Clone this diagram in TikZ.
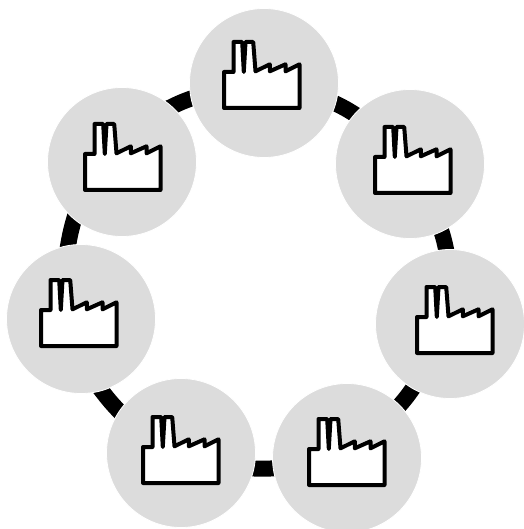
\documentclass[tikz,border=0pt]{standalone}
\usetikzlibrary{backgrounds}
\definecolor{sitegray}{RGB}{220,220,220}
\tikzset{
  site/.style={circle,fill=sitegray,draw=white,line width=0.8pt,minimum size=149pt,inner sep=0pt,outer sep=0pt},
  link/.style={line width=16pt,draw=black,shorten <=-4pt,shorten >=-4pt},
  factory/.pic={
    \draw[line width=4pt,line join=round,fill=white,draw=black]
      (-40.5,25)--(-40.5,-11)--(-31,-11)--(-31,-41)--(-22.3,-41)--(-20.7,-11)--(-19,-41)--(-11.3,-41)
      --(-9,-11.7)--(5.3,-18.7)--(5.3,-11.7)--(21,-18.7)--(21,-11.7)--(35,-18.7)--(35,25)--cycle;
  }
}
\begin{document}
\begin{tikzpicture}[x=1pt,y=-1pt]
\useasboundingbox (0,0) rectangle (523,529);
\node[site] (a) at (264,83) {};
\node[site] (b) at (410,164) {};
\node[site] (c) at (450,324) {};
\node[site] (d) at (347,458) {};
\node[site] (e) at (181,453) {};
\node[site] (f) at (81,319) {};
\node[site] (g) at (122,162) {};
\begin{scope}[on background layer]
\draw[link] (a.-16.5) to[bend left=3.5] (b.138);
\draw[link] (b.-65.1) to[bend left=3.5] (c.93.9);
\draw[link] (c.-120.5) to[bend left=3.5] (d.45.7);
\draw[link] (d.-172.1) to[bend left=3.5] (e.-12.5);
\draw[link] (e.146) to[bend left=3.5] (f.-74);
\draw[link] (f.100.3) to[bend left=3.5] (g.-130);
\draw[link] (g.48.2) to[bend left=3.5] (a.-168.1);
\end{scope}
\path (264.5,83) pic {factory};
\path (415.5,168) pic {factory};
\path (457.5,328) pic {factory};
\path (349.5,460) pic {factory};
\path (183.5,458) pic {factory};
\path (81.5,321) pic {factory};
\path (125.5,165) pic {factory};
\end{tikzpicture}
\end{document}
